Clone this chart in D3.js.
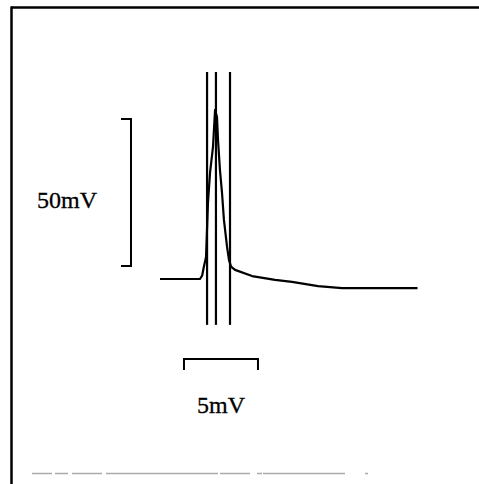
<!DOCTYPE html>
<html>
<head>
<meta charset="utf-8">
<script src="https://cdn.jsdelivr.net/npm/d3@7/dist/d3.min.js"></script>
<style>
  html, body { margin: 0; padding: 0; background: #fff; }
  svg { display: block; }
</style>
</head>
<body>
<div id="chart"></div>
<script>
// Membrane potential trace: time (ms) and voltage relative to rest (mV)
const traceTime    = [0, 2.70, 2.85, 2.95, 3.11, 3.24, 3.38, 3.58, 3.72, 3.85, 3.92, 4.05, 4.19, 4.32, 4.53, 4.66, 4.80, 5.07, 6.22, 7.77, 8.92, 10.68, 12.3, 17.4];
const traceVoltage = [0, 0, 1.2, 3.8, 7.5, 25.9, 36.1, 44.9, 57.5, 55.1, 47.3, 37.1, 29.3, 20.1, 10.9, 6.5, 4.2, 3.1, 1.0, -0.3, -1.0, -2.4, -3.1, -3.1];

// Vertical marker lines (ms) and their extent (mV)
const markerTimes = [3.18, 3.78, 4.73];
const markerRange = [-15.6, 70.4];

// Scale bars
const vBarTime = -1.96;          // ms
const vBarRange = [4.4, 54.4];   // mV
const vBarLabel = "50mV";
const hBarVoltage = -27.2;       // mV
const hBarRange = [1.62, 6.62];  // ms
const hBarLabel = "5mV";

const W = 479, H = 484;
const svg = d3.select("#chart").append("svg").attr("width", W).attr("height", H);

// Scales: 14.8 px per ms, 2.94 px per mV
const x = d3.scaleLinear().domain([0, 10]).range([160, 308]);
const y = d3.scaleLinear().domain([0, 50]).range([279, 132]);

// Frame
svg.append("line").attr("x1", 11).attr("x2", 479).attr("y1", 7.5).attr("y2", 7.5)
  .attr("stroke", "#000").attr("stroke-width", 2.5);
svg.append("line").attr("x1", 11.5).attr("x2", 11.5).attr("y1", 6.5).attr("y2", 484)
  .attr("stroke", "#000").attr("stroke-width", 2.5);
// faint broken bottom edge
const bottomSegs = [[32, 52], [55, 68], [72, 102], [106, 218], [220, 250], [257, 262], [263, 345], [365, 368]];
svg.selectAll("line.bottom").data(bottomSegs).enter().append("line")
  .attr("class", "bottom")
  .attr("x1", d => d[0]).attr("x2", d => d[1]).attr("y1", 473.5).attr("y2", 473.5)
  .attr("stroke", "#aaa").attr("stroke-width", 1.5);

// Trace
const trace = traceTime.map((t, i) => [t, traceVoltage[i]]);
svg.append("path")
  .datum(trace)
  .attr("fill", "none")
  .attr("stroke", "#000")
  .attr("stroke-width", 2.2)
  .attr("stroke-linejoin", "round")
  .attr("d", d3.line().x(d => x(d[0])).y(d => y(d[1])));

// Marker lines
svg.selectAll("line.marker").data(markerTimes).enter().append("line")
  .attr("class", "marker")
  .attr("x1", d => x(d)).attr("x2", d => x(d))
  .attr("y1", y(markerRange[1])).attr("y2", y(markerRange[0]))
  .attr("stroke", "#000").attr("stroke-width", 2.2);

// Vertical scale bar (bracket opening left)
const vx = x(vBarTime);
svg.append("path")
  .attr("fill", "none").attr("stroke", "#000").attr("stroke-width", 2)
  .attr("d", `M${vx - 10},${y(vBarRange[1])} H${vx} V${y(vBarRange[0])} H${vx - 10}`);
svg.append("text")
  .attr("x", 67).attr("y", 208)
  .attr("text-anchor", "middle")
  .attr("font-family", "'Liberation Serif', 'Times New Roman', serif")
  .attr("font-size", 24)
  .attr("stroke", "#000").attr("stroke-width", 0.3)
  .text(vBarLabel);

// Horizontal scale bar (bracket opening down)
const hy = y(hBarVoltage);
svg.append("path")
  .attr("fill", "none").attr("stroke", "#000").attr("stroke-width", 2)
  .attr("d", `M${x(hBarRange[0])},${hy + 11} V${hy} H${x(hBarRange[1])} V${hy + 11}`);
svg.append("text")
  .attr("x", (x(hBarRange[0]) + x(hBarRange[1])) / 2).attr("y", 413)
  .attr("text-anchor", "middle")
  .attr("font-family", "'Liberation Serif', 'Times New Roman', serif")
  .attr("font-size", 24)
  .attr("stroke", "#000").attr("stroke-width", 0.3)
  .text(hBarLabel);
</script>
</body>
</html>
